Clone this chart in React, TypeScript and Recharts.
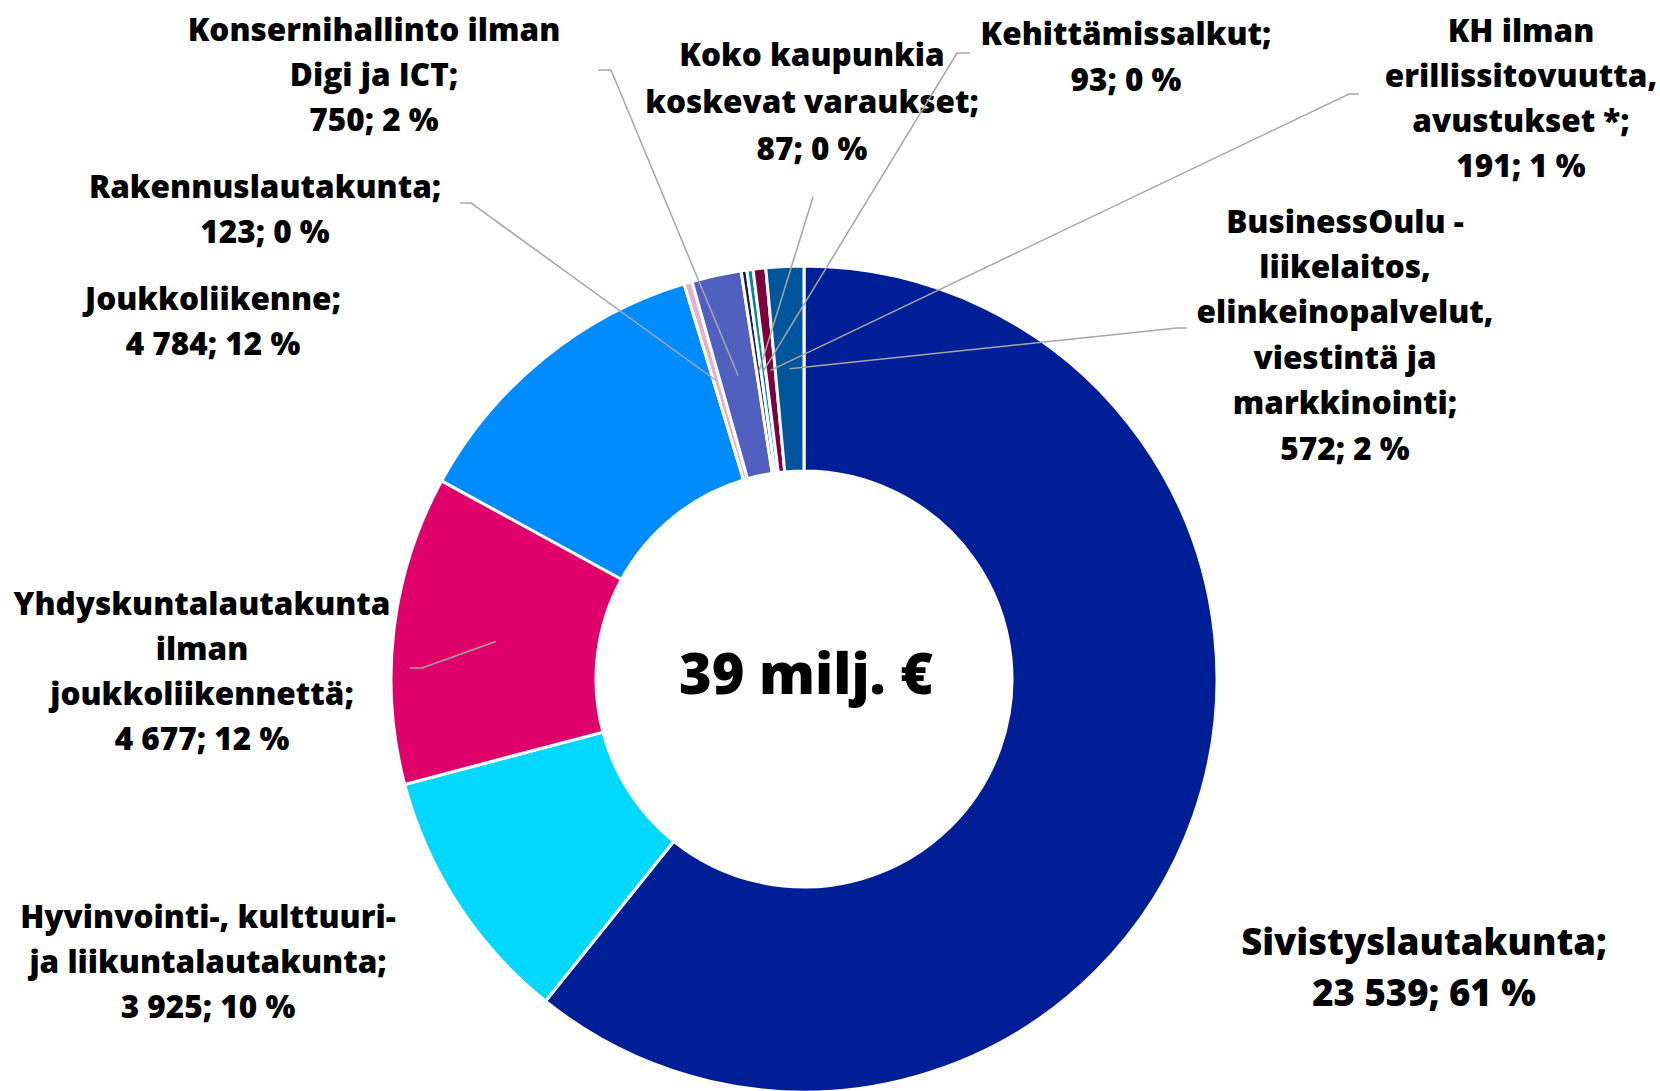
import { PieChart, Pie, Cell } from 'recharts';

const categories: string[][] = [
  ['Sivistyslautakunta;'],
  ['Hyvinvointi-, kulttuuri-', 'ja liikuntalautakunta;'],
  ['Yhdyskuntalautakunta', 'ilman', 'joukkoliikennettä;'],
  ['Joukkoliikenne;'],
  ['Rakennuslautakunta;'],
  ['Konsernihallinto ilman', 'Digi ja ICT;'],
  ['Koko kaupunkia', 'koskevat varaukset;'],
  ['Kehittämissalkut;'],
  ['KH ilman', 'erillissitovuutta,', 'avustukset *;'],
  ['BusinessOulu -', 'liikelaitos,', 'elinkeinopalvelut,', 'viestintä ja', 'markkinointi;'],
];

const values = [23539, 3925, 4677, 4784, 123, 750, 87, 93, 191, 572];
const percents = [61, 10, 12, 12, 0, 2, 0, 0, 1, 2];

const colors = [
  '#001e96',
  '#00d8ff',
  '#e0006a',
  '#008cff',
  '#e8aecb',
  '#505fc0',
  '#1c1c5c',
  '#008c8c',
  '#7d003f',
  '#00559c',
];

const centerText = '39 milj. €';

// label placement (page coords): x = centre, y = first line centre,
// from = start of leader line, elbow = bend point (optional)
type LabelLayout = {
  x: number;
  y: number;
  size: number;
  lh: number;
  from?: [number, number];
  elbow?: [number, number];
};

const labelLayout: LabelLayout[] = [
  { x: 1424, y: 941, size: 36.5, lh: 51 },
  { x: 208, y: 915, size: 31.5, lh: 45 },
  { x: 202, y: 602, size: 31.5, lh: 45, from: [410, 668], elbow: [422, 668] },
  { x: 213, y: 297, size: 31.5, lh: 45 },
  { x: 265, y: 185, size: 31.5, lh: 45, from: [460, 203], elbow: [471, 203] },
  { x: 374, y: 28, size: 31.5, lh: 45, from: [598, 70], elbow: [611, 70] },
  { x: 812, y: 53, size: 31.5, lh: 47, from: [813, 197] },
  { x: 1126, y: 32, size: 31.5, lh: 46, from: [970, 53], elbow: [957, 53] },
  { x: 1521, y: 29, size: 31.5, lh: 45.3, from: [1359, 94], elbow: [1349, 94] },
  { x: 1345, y: 220, size: 31.5, lh: 45.4, from: [1187, 328], elbow: [1177, 328] },
];

const data = values.map((value, i) => ({ name: categories[i].join(' '), value }));

const RADIAN = Math.PI / 180;

function formatValue(v: number): string {
  return String(v).replace(/\B(?=(\d{3})+(?!\d))/g, ' ');
}

function renderLabel(props: any) {
  const { cx, cy, midAngle, innerRadius, outerRadius, index } = props;
  const layout = labelLayout[index];
  const lines = [...categories[index], `${formatValue(values[index])}; ${percents[index]} %`];
  const r = (innerRadius + outerRadius) / 2;
  const tx = cx + r * Math.cos(-midAngle * RADIAN);
  const ty = cy + r * Math.sin(-midAngle * RADIAN);

  let points = '';
  if (layout.from) {
    const pts: [number, number][] = [layout.from];
    if (layout.elbow) pts.push(layout.elbow);
    pts.push([tx, ty]);
    points = pts.map((p) => p.join(',')).join(' ');
  }

  return (
    <g key={`lbl-${index}`}>
      {points && (
        <polyline points={points} fill="none" stroke="#a6a6a6" strokeWidth={1.5} />
      )}
      <text
        x={layout.x}
        y={layout.y}
        textAnchor="middle"
        fill="#000"
        fontFamily="'Open Sans', sans-serif"
        fontWeight={800}
        fontSize={layout.size}
      >
        {lines.map((line, i) => (
          <tspan key={i} x={layout.x} y={layout.y + i * layout.lh} dominantBaseline="central">
            {line}
          </tspan>
        ))}
      </text>
    </g>
  );
}

export default function App() {
  return (
    <div style={{ position: 'absolute', left: 0, top: 0, width: 1660, height: 1091, background: '#fff' }}>
      <PieChart width={1660} height={1091} margin={{ top: 0, right: 0, bottom: 0, left: 0 }}>
        <Pie
          data={data}
          dataKey="value"
          nameKey="name"
          cx={804}
          cy={679}
          innerRadius={208}
          outerRadius={413}
          startAngle={90}
          endAngle={-270}
          stroke="#ffffff"
          strokeWidth={3}
          label={renderLabel}
          labelLine={false}
          isAnimationActive={false}
        >
          {values.map((_, i) => (
            <Cell key={i} fill={colors[i]} />
          ))}
        </Pie>
        <text
          x={806}
          y={672}
          textAnchor="middle"
          dominantBaseline="central"
          fontFamily="'Open Sans', sans-serif"
          fontWeight={800}
          fontSize={56}
          fill="#000"
        >
          {centerText}
        </text>
      </PieChart>
    </div>
  );
}
